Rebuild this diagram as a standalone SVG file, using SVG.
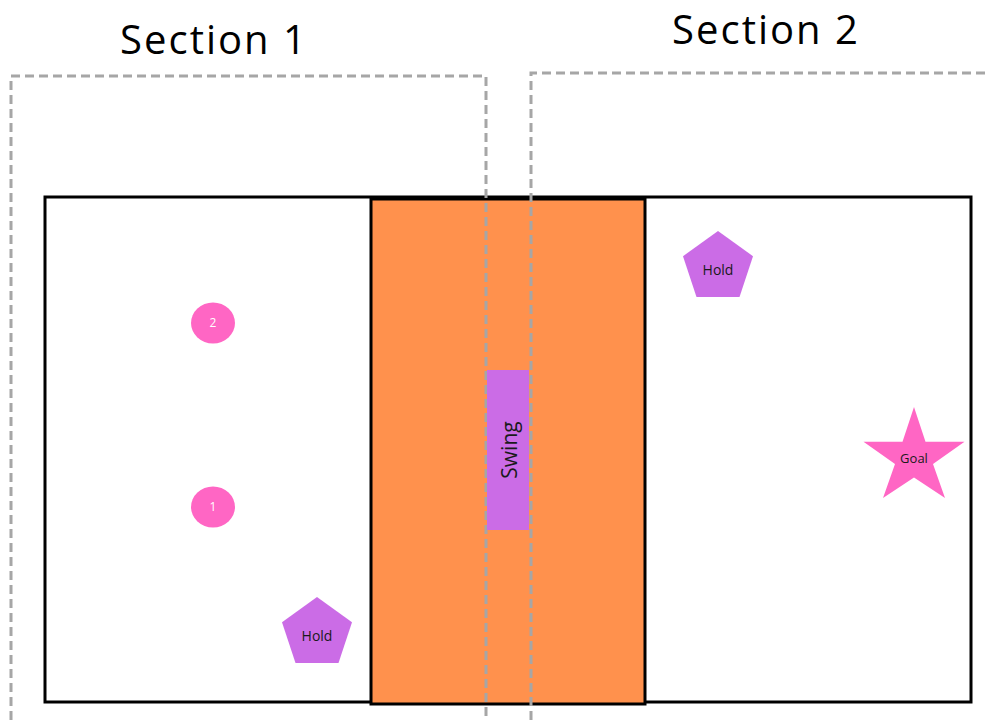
<svg xmlns="http://www.w3.org/2000/svg" width="990" height="720" viewBox="0 0 990 720">
<style>
.dash{fill:none;stroke:#a6a6a6;stroke-width:3;stroke-dasharray:9 5}
.title{font-family:"Open Sans","Liberation Sans",sans-serif;font-size:40px;letter-spacing:2px;fill:#000;text-anchor:middle}
.lbl{font-family:"Open Sans","Liberation Sans",sans-serif;font-size:14px;fill:#1a1a1a;text-anchor:middle}
.purple{fill:#cb6ce6}
.pink{fill:#ff66c4}
</style>
<rect width="990" height="720" fill="#fff"/>
<g id="board">
<rect x="45" y="197" width="926" height="505" fill="#fff" stroke="#000" stroke-width="3"/>
<rect x="371" y="199" width="274" height="505" fill="#ff914d" stroke="#000" stroke-width="3"/>
</g>
<g id="section1">
<path class="dash" d="M11,720 V76 H486 V720"/>
<text class="title" x="214" y="54">Section 1</text>
</g>
<g id="section2">
<path class="dash" d="M531,720 V73 H990"/>
<text class="title" x="766" y="44">Section 2</text>
</g>
<g id="swing">
<rect class="purple" x="487" y="370" width="42" height="160"/>
<text class="lbl" transform="translate(510,450) rotate(-90)" y="7" style="font-size:21px">Swing</text>
</g>
<g id="hold2">
<ellipse class="pink" cx="213" cy="323" rx="22" ry="20.5"/>
<text class="lbl" x="213" y="327" style="font-size:12px;fill:#fff">2</text>
</g>
<g id="hold1">
<ellipse class="pink" cx="213" cy="507" rx="22" ry="20.5"/>
<text class="lbl" x="213" y="511" style="font-size:12px;fill:#fff">1</text>
</g>
<g id="holdA">
<polygon class="purple" points="317,597 352,622.2 338.5,663 295.5,663 282,622.2"/>
<text class="lbl" x="317" y="641">Hold</text>
</g>
<g id="holdB">
<polygon class="purple" points="718,231 753,256.2 739.5,297 696.5,297 683,256.2"/>
<text class="lbl" x="718" y="275">Hold</text>
</g>
<g id="goal">
<polygon class="pink" points="914,407 925.5,441.8 964.5,441.8 933,464 945,498 914,477.5 883,498 895,464 863.5,441.8 902.5,441.8"/>
<text class="lbl" x="914" y="463" style="font-size:13px">Goal</text>
</g>
<g id="connectors"></g>
</svg>
